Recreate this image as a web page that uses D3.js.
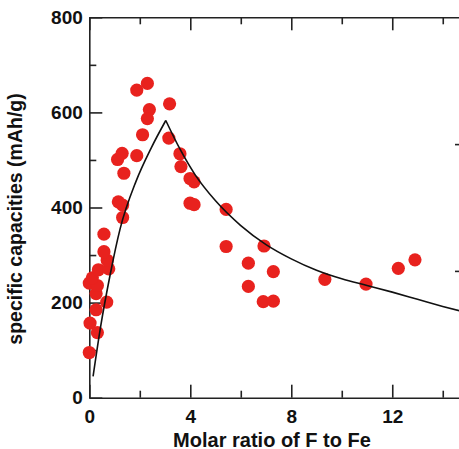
<!DOCTYPE html>
<html>
<head>
<meta charset="utf-8">
<script src="https://cdn.jsdelivr.net/npm/d3@7"></script>
<style>
  html, body { margin: 0; padding: 0; background: #fff; }
  svg { display: block; }
  text { font-family: "Liberation Sans", Arial, Helvetica, sans-serif; font-weight: bold; fill: #111; }
</style>
</head>
<body>
<svg id="chart" width="459" height="449"></svg>
<script>
// Measured capacities vs. F:Fe molar ratio
const ratioX = [0.00, 0.03, 0.32, 0.27, 0.27, 0.69, 0.00, 0.32, 0.12, 0.36, 0.77, 0.71, 0.58, 0.58,
                1.15, 1.32, 1.32, 1.37, 1.12, 1.30, 1.88, 2.11, 1.88, 2.30, 2.38, 2.30,
                3.18, 3.15, 3.59, 3.63, 3.99, 4.15, 3.99, 4.15, 5.42, 5.42,
                6.92, 6.30, 7.29, 6.30, 6.89, 7.29, 9.33, 10.96, 12.24, 12.90];
const capacityY = [95, 157, 137, 185, 219, 201, 241, 236, 252, 269, 271, 289, 307, 344,
                   412, 405, 379, 472, 501, 514, 509, 553, 647, 661, 606, 587,
                   618, 546, 513, 486, 461, 454, 409, 406, 396, 318,
                   319, 283, 265, 234, 202, 203, 249, 239, 272, 290];

// Trend line, rising branch and falling branch (meeting at the peak)
const riseX = [0.15, 0.45, 0.82, 1.22, 1.85, 2.45, 3.03];
const riseY = [45, 150, 257, 355, 455, 525, 583];
const fallX = [3.03, 3.6, 4.2, 5.0, 6.0, 7.0, 8.0, 9.0, 10.0, 11.0, 12.0, 13.0, 14.0, 15.0];
const fallY = [583, 522, 468, 414, 362, 322, 292, 268, 250, 236, 222, 207, 192, 178];

// Axis ticks
const xMajor = [0, 4, 8, 12];
const xMinor = [2, 6, 10, 14];
const yMajor = [0, 200, 400, 600, 800];
const yMinor = [100, 300, 500, 700];
const rMajor = [1, 2];
const rMinor = [0.5, 1.5, 2.5];

const xLabel = "Molar ratio of F to Fe";
const yLabel = "specific capacities (mAh/g)";

const svg = d3.select("#chart");
const L = 89.3, R = 468, T = 17.3, B = 397.7;

const x = d3.scaleLinear().domain([0, 15]).range([L, R]);
const y = d3.scaleLinear().domain([0, 800]).range([B, T]);
const yr = d3.scaleLinear().domain([0, 3]).range([B, T]);

const axisColor = "#222";
const fontSize = 19;

function styleAxis(g, hideDomain) {
  g.selectAll("line").attr("stroke", axisColor).attr("stroke-width", 1.6);
  g.select(".domain").attr("stroke", axisColor).attr("stroke-width", 1.6);
  if (hideDomain) g.select(".domain").remove();
  g.selectAll("text").attr("font-size", fontSize).attr("fill", "#111")
    .style("font-family", '"Liberation Sans", Arial, sans-serif').style("font-weight", "bold");
}

// Bottom axis
svg.append("g").attr("transform", `translate(0,${B})`)
  .call(d3.axisBottom(x).tickValues(xMinor).tickSize(-7).tickFormat(""))
  .call(g => styleAxis(g, true));
svg.append("g").attr("transform", `translate(0,${B})`)
  .call(d3.axisBottom(x).tickValues(xMajor).tickSizeInner(-13).tickSizeOuter(0).tickPadding(12).tickFormat(d3.format("d")))
  .call(g => styleAxis(g, false));

// Top axis
svg.append("g").attr("transform", `translate(0,${T})`)
  .call(d3.axisTop(x).tickValues(xMinor).tickSize(-7).tickFormat(""))
  .call(g => styleAxis(g, true));
svg.append("g").attr("transform", `translate(0,${T})`)
  .call(d3.axisTop(x).tickValues(xMajor).tickSizeInner(-13).tickSizeOuter(0).tickFormat(""))
  .call(g => styleAxis(g, false));

// Left axis
svg.append("g").attr("transform", `translate(${L},0)`)
  .call(d3.axisLeft(y).tickValues(yMinor).tickSize(-7).tickFormat(""))
  .call(g => styleAxis(g, true));
svg.append("g").attr("transform", `translate(${L},0)`)
  .call(d3.axisLeft(y).tickValues(yMajor).tickSizeInner(-13).tickSizeOuter(0).tickPadding(6.5).tickFormat(d3.format("d")))
  .call(g => styleAxis(g, false));

// Right axis (secondary scale)
svg.append("g").attr("transform", `translate(${R},0)`)
  .call(d3.axisRight(yr).tickValues(rMinor).tickSize(-9).tickFormat(""))
  .call(g => styleAxis(g, true))
  .call(g => g.selectAll("line").attr("stroke", "#999").attr("stroke-width", 1));
svg.append("g").attr("transform", `translate(${R},0)`)
  .call(d3.axisRight(yr).tickValues(rMajor).tickSizeInner(-13).tickSizeOuter(0).tickFormat(""))
  .call(g => styleAxis(g, false));

// Data points
const pts = ratioX.map((v, i) => ({ x: v, y: capacityY[i] }));
svg.append("g").selectAll("circle").data(pts).join("circle")
  .attr("cx", d => x(d.x)).attr("cy", d => y(d.y)).attr("r", 6.6)
  .attr("fill", "#e8221e");

// Trend line
const line = d3.line().x(d => x(d[0])).y(d => y(d[1])).curve(d3.curveMonotoneX);
const rise = riseX.map((v, i) => [v, riseY[i]]);
const fall = fallX.map((v, i) => [v, fallY[i]]);
[rise, fall].forEach(seg => {
  svg.append("path").datum(seg).attr("d", line)
    .attr("fill", "none").attr("stroke", "#111").attr("stroke-width", 1.6);
});

// Axis titles
svg.append("text").attr("x", 272).attr("y", 446.5).attr("text-anchor", "middle")
  .attr("font-size", 20).text(xLabel);
svg.append("text").attr("transform", "translate(22,219) rotate(-90)").attr("text-anchor", "middle")
  .attr("font-size", 19.5).text(yLabel);
</script>
</body>
</html>
